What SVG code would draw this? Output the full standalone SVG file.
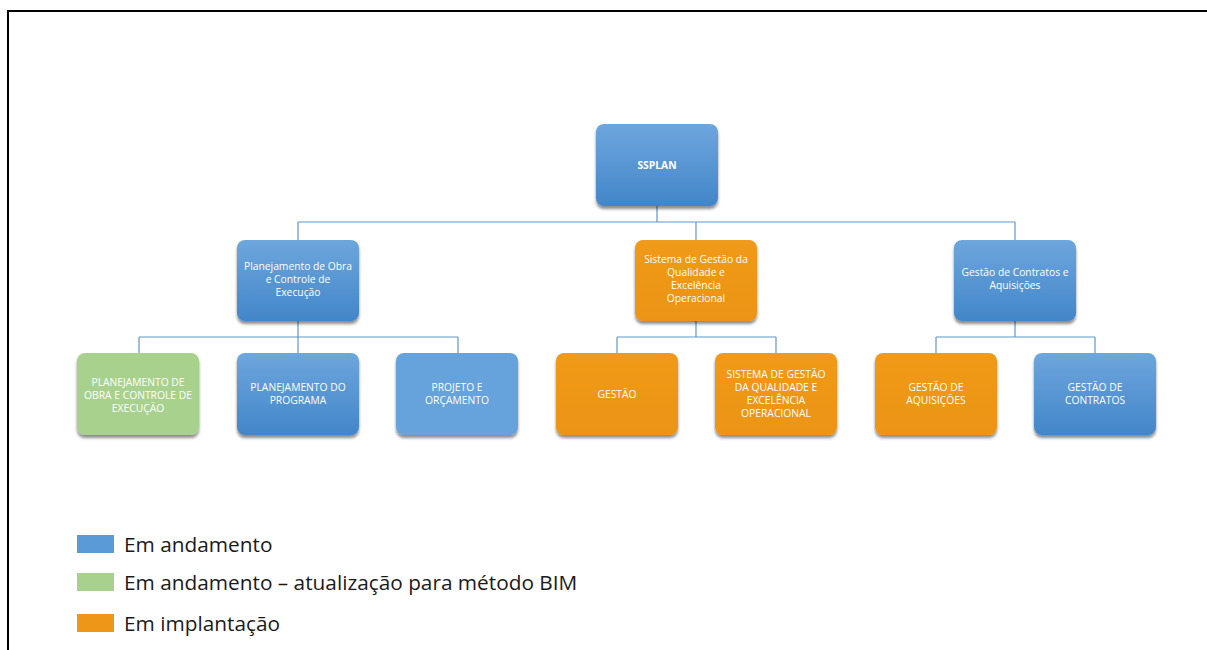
<svg xmlns="http://www.w3.org/2000/svg" width="1207" height="650" viewBox="0 0 1207 650">
<defs>
<linearGradient id="blue" x1="0" y1="0" x2="0" y2="1">
<stop offset="0" stop-color="#6ea6dd"/>
<stop offset="1" stop-color="#4286c9"/>
</linearGradient>
<linearGradient id="orange" x1="0" y1="0" x2="0" y2="1">
<stop offset="0" stop-color="#f09a1a"/>
<stop offset="1" stop-color="#eb9414"/>
</linearGradient>
<filter id="sh" x="-10%" y="-10%" width="120%" height="130%">
<feGaussianBlur in="SourceAlpha" stdDeviation="1.6"/>
<feOffset dx="0" dy="2.5" result="b"/>
<feComponentTransfer><feFuncA type="linear" slope="0.45"/></feComponentTransfer>
<feMerge><feMergeNode/><feMergeNode in="SourceGraphic"/></feMerge>
</filter>
</defs>
<style>
.box{filter:url(#sh)}
.b{fill:url(#blue)}
.o{fill:url(#orange)}
.g{fill:#a9d18e}
.t{font-family:"Open Sans","Noto Sans","Liberation Sans",sans-serif;font-size:10.3px;fill:#ffffff;text-anchor:middle}
.tb{font-weight:bold}
.c{stroke:#5f96cc;stroke-width:1.2;fill:none}
.lg{font-family:"Open Sans","Noto Sans","Liberation Sans",sans-serif;font-size:20.8px;fill:#1a1a1a}
</style>
<rect width="1207" height="650" fill="#ffffff"/>
<path d="M8 650 V11 H1207" fill="none" stroke="#000" stroke-width="2"/>
<g id="connectors">
<path class="c" d="M657 206 V222 M298 222 H1015 M298 222 V240 M696 222 V240 M1015 222 V240"/>
<path class="c" d="M298 321 V337 M139 337 H458 M139 337 V353 M298 337 V353 M458 337 V353"/>
<path class="c" d="M696 321 V337 M617 337 H776 M617 337 V353 M776 337 V353"/>
<path class="c" d="M1015 321 V337 M936 337 H1095 M936 337 V353 M1095 337 V353"/>
</g>
<g id="ssplan"><rect class="box b" x="596" y="124" width="122" height="82" rx="8"/><text class="t tb" x="657" y="168.5">SSPLAN</text></g>
<g id="planejamento-obra"><rect class="box b" x="237" y="240" width="122" height="81" rx="8"/><text class="t" x="298" y="269.5">Planejamento de Obra</text><text class="t" x="298" y="282.5">e Controle de</text><text class="t" x="298" y="295.5">Execução</text></g>
<g id="sistema-gestao"><rect class="box o" x="635" y="240" width="122" height="81" rx="8"/><text class="t" x="696" y="263">Sistema de Gestão da</text><text class="t" x="696" y="276">Qualidade e</text><text class="t" x="696" y="289">Excelência</text><text class="t" x="696" y="302">Operacional</text></g>
<g id="gestao-contratos-aquisicoes"><rect class="box b" x="954" y="240" width="122" height="81" rx="8"/><text class="t" x="1015" y="276">Gestão de Contratos e</text><text class="t" x="1015" y="289">Aquisições</text></g>
<g id="planejamento-obra-caps"><rect class="box g" x="77" y="353" width="122" height="82" rx="8"/><text class="t" x="138" y="385.5">PLANEJAMENTO DE</text><text class="t" x="138" y="398.5">OBRA E CONTROLE DE</text><text class="t" x="138" y="411.5">EXECUÇÃO</text></g>
<g id="planejamento-programa"><rect class="box b" x="237" y="353" width="122" height="82" rx="8"/><text class="t" x="298" y="391">PLANEJAMENTO DO</text><text class="t" x="298" y="404">PROGRAMA</text></g>
<g id="projeto-orcamento"><rect class="box" fill="#66a2dc" x="396" y="353" width="122" height="82" rx="8"/><text class="t" x="457" y="391">PROJETO E</text><text class="t" x="457" y="404">ORÇAMENTO</text></g>
<g id="gestao"><rect class="box o" x="556" y="353" width="122" height="82" rx="8"/><text class="t" x="617" y="397.5">GESTÃO</text></g>
<g id="sistema-gestao-caps"><rect class="box o" x="715" y="353" width="122" height="82" rx="8"/><text class="t" x="776" y="378">SISTEMA DE GESTÃO</text><text class="t" x="776" y="391">DA QUALIDADE E</text><text class="t" x="776" y="404">EXCELÊNCIA</text><text class="t" x="776" y="417">OPERACIONAL</text></g>
<g id="gestao-aquisicoes"><rect class="box o" x="875" y="353" width="122" height="82" rx="8"/><text class="t" x="936" y="391">GESTÃO DE</text><text class="t" x="936" y="404">AQUISIÇÕES</text></g>
<g id="gestao-contratos"><rect class="box b" x="1034" y="353" width="122" height="82" rx="8"/><text class="t" x="1095" y="391">GESTÃO DE</text><text class="t" x="1095" y="404">CONTRATOS</text></g>
<g id="legend">
<rect x="77" y="535" width="37" height="18" fill="#5b9bd5"/>
<text class="lg" x="124" y="552">Em andamento</text>
<rect x="77" y="573" width="37" height="18" fill="#a9d18e"/>
<text class="lg" x="124" y="590">Em andamento – atualização para método BIM</text>
<rect x="77" y="614" width="37" height="18" fill="#ed9617"/>
<text class="lg" x="124" y="631">Em implantação</text>
</g>
</svg>
